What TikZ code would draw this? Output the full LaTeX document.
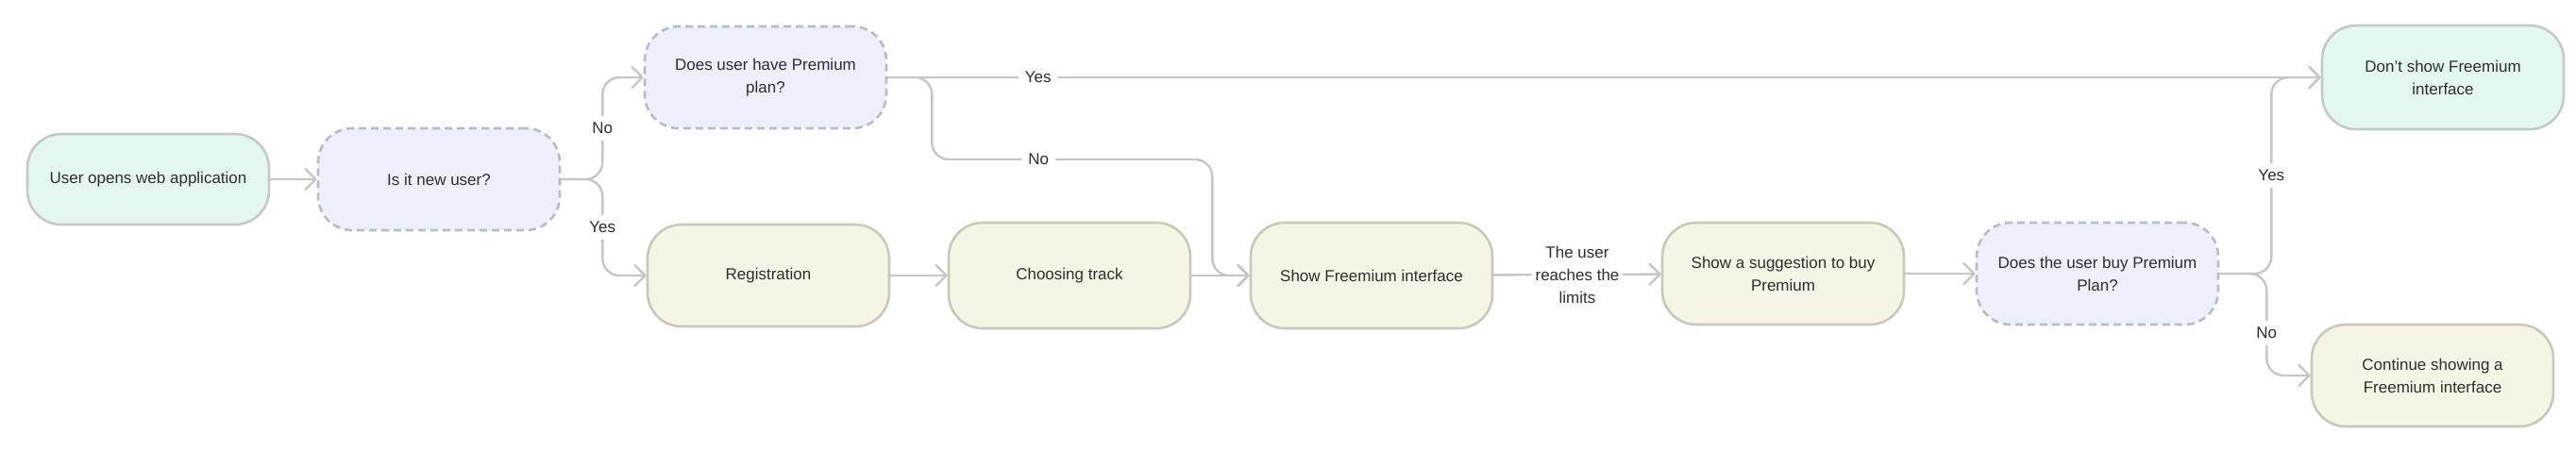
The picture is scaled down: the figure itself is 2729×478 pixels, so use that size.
\documentclass[tikz,border=0pt]{standalone}
\usepackage{fontspec}
\setmainfont{Liberation Sans}
\usetikzlibrary{arrows.meta}
\definecolor{gfill}{HTML}{E4F6F0}
\definecolor{gdraw}{HTML}{C5CAC8}
\definecolor{qfill}{HTML}{EDEFFC}
\definecolor{qdraw}{HTML}{B8BDC3}
\definecolor{bfill}{HTML}{F6F5E5}
\definecolor{bdraw}{HTML}{CAC8B8}
\definecolor{lnk}{HTML}{C6C6C6}
\definecolor{txt}{HTML}{2E2E2E}
\begin{document}
\begin{tikzpicture}[x=1pt,y=-1pt,
  every node/.style={font=\fontsize{17}{24}\selectfont, text=txt, align=center},
  basebox/.style={rectangle, rounded corners=36pt, minimum width=256pt, minimum height=108pt, line width=2.6pt, inner sep=4pt},
  greenbox/.style={basebox, fill=gfill, draw=gdraw},
  qbox/.style={basebox, fill=qfill, draw=qdraw, dash pattern=on 8pt off 5pt},
  beigebox/.style={basebox, fill=bfill, draw=bdraw},
  conn/.style={draw=lnk, line width=2.4pt, rounded corners=18pt, line join=round,
    -{Straight Barb[length=11pt,width=22pt,line cap=round,line join=round]}},
  elabel/.style={fill=white, inner sep=7pt}
]
\useasboundingbox (0,0) rectangle (2729,478);

\node[greenbox, minimum height=96pt] (user) at (157,190) {User opens web application};
\node[qbox] (isnew) at (465,190) {Is it new user?};
\node[qbox] (prem) at (811,82) {Does user have Premium\\plan?};
\node[beigebox] (reg) at (814,292) {Registration};
\node[beigebox, minimum height=112pt] (track) at (1133,292) {Choosing track};
\node[beigebox, minimum height=112pt] (showfree) at (1453,292) {Show Freemium interface};
\node[beigebox] (sugg) at (1889,290) {Show a suggestion to buy\\Premium};
\node[qbox] (buy) at (2222,290) {Does the user buy Premium\\Plan?};
\node[greenbox, minimum height=110pt] (dont) at (2588,82) {Don’t show Freemium\\interface};
\node[beigebox] (cont) at (2577,398) {Continue showing a\\Freemium interface};

\draw[conn] (user) -- (isnew);
\draw[conn] (isnew.east) -- ++(44,0) |- (prem.west) node[elabel, pos=0.25] {No};
\draw[conn] (isnew.east) -- ++(44,0) |- (reg.west) node[elabel, pos=0.25] {Yes};
\draw[conn] (prem.east) -- (dont.west) node[elabel, pos=0.105] {Yes};
\draw[conn] (prem.east) -- ++(47,0) -- ++(0,87) -- ++(297,0) node[elabel, pos=0.38] {No} |- (showfree.west);
\draw[conn] (reg) -- (track);
\draw[conn] (track) -- (showfree);
\draw[conn] (showfree) -- (sugg) node[elabel, pos=0.5, inner sep=4pt] {The user\\reaches the\\limits};
\draw[conn] (sugg) -- (buy);
\draw[conn] (buy.east) -- ++(55,0) |- (dont.west) node[elabel, pos=0.25] {Yes};
\draw[conn] (buy.east) -- ++(50,0) |- (cont.west) node[elabel, pos=0.29] {No};
\end{tikzpicture}
\end{document}
